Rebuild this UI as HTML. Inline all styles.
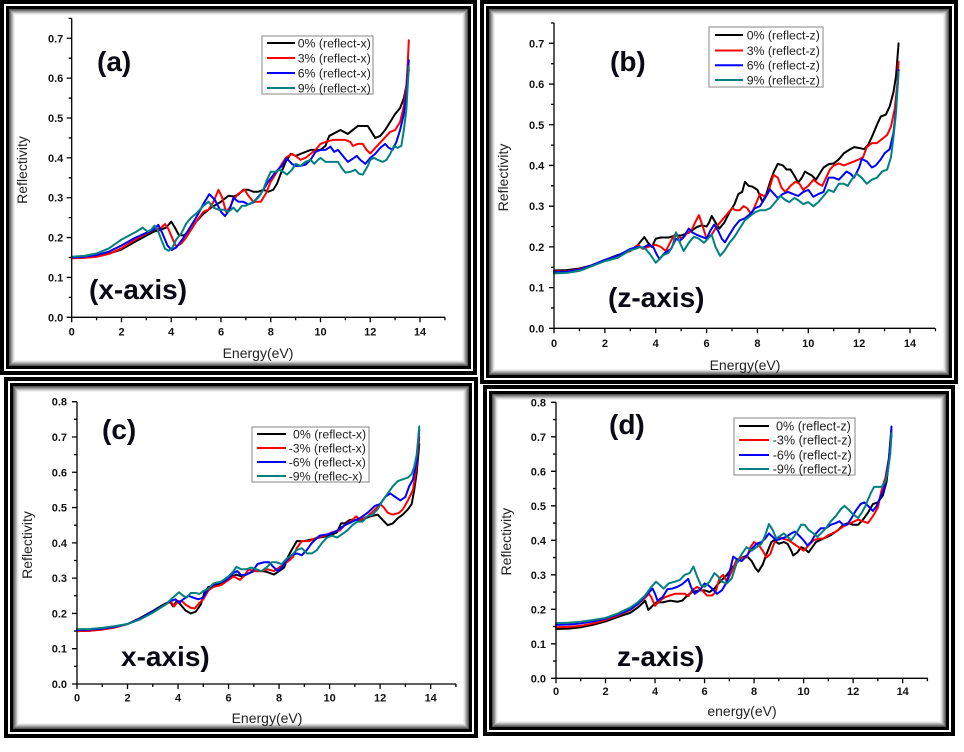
<!DOCTYPE html>
<html><head><meta charset="utf-8"><style>
html,body{margin:0;padding:0;background:#fff;}
svg{display:block;}
text{font-family:"Liberation Sans",Arial,sans-serif;}
.tl{font-size:11px;font-weight:bold;fill:#111;}
.at{font-size:14px;fill:#222;}
.lg{font-size:12.3px;fill:#222;}
.big{font-size:28px;font-weight:bold;fill:#0a0a14;}
.c{fill:none;stroke-width:2;vector-effect:non-scaling-stroke;stroke-linejoin:round;stroke-linecap:round;}
.tk{fill:none;stroke:#000;stroke-width:1.3;vector-effect:non-scaling-stroke;}
</style></head><body>
<svg width="964" height="752" viewBox="0 0 964 752" xmlns="http://www.w3.org/2000/svg">
<rect width="964" height="752" fill="#fff"/>
<!-- frames -->
<g>
<rect x="0" y="0" width="477" height="375" fill="#000"/><rect x="4" y="4" width="469" height="367" fill="#fff"/><rect x="6" y="6" width="465" height="363" fill="#000"/><rect x="9" y="9" width="459" height="357" fill="#555"/><rect x="10" y="10" width="457" height="355" fill="#777"/><rect x="11" y="11" width="455" height="353" fill="#999"/><rect x="12" y="12" width="453" height="351" fill="#bbb"/><rect x="13" y="13" width="451" height="349" fill="#ddd"/><rect x="14" y="14" width="449" height="347" fill="#f0f0f0"/><rect x="15" y="15" width="447" height="345" fill="#fff"/>
</g>
<g>
<rect x="480" y="0" width="478" height="384" fill="#000"/><rect x="484" y="4" width="470" height="376" fill="#fff"/><rect x="486" y="6" width="466" height="372" fill="#000"/><rect x="489" y="9" width="460" height="366" fill="#555"/><rect x="490" y="10" width="458" height="364" fill="#777"/><rect x="491" y="11" width="456" height="362" fill="#999"/><rect x="492" y="12" width="454" height="360" fill="#bbb"/><rect x="493" y="13" width="452" height="358" fill="#ddd"/><rect x="494" y="14" width="450" height="356" fill="#f0f0f0"/><rect x="495" y="15" width="448" height="354" fill="#fff"/>
</g>
<g>
<rect x="4" y="377" width="474" height="361" fill="#000"/><rect x="8" y="381" width="466" height="353" fill="#fff"/><rect x="10" y="383" width="462" height="349" fill="#000"/><rect x="13" y="386" width="456" height="343" fill="#555"/><rect x="14" y="387" width="454" height="341" fill="#777"/><rect x="15" y="388" width="452" height="339" fill="#999"/><rect x="16" y="389" width="450" height="337" fill="#bbb"/><rect x="17" y="390" width="448" height="335" fill="#ddd"/><rect x="18" y="391" width="446" height="333" fill="#f0f0f0"/><rect x="19" y="392" width="444" height="331" fill="#fff"/>
</g>
<g>
<rect x="483" y="385" width="472" height="351" fill="#000"/><rect x="487" y="389" width="464" height="343" fill="#fff"/><rect x="489" y="391" width="460" height="339" fill="#000"/><rect x="492" y="394" width="454" height="333" fill="#555"/><rect x="493" y="395" width="452" height="331" fill="#777"/><rect x="494" y="396" width="450" height="329" fill="#999"/><rect x="495" y="397" width="448" height="327" fill="#bbb"/><rect x="496" y="398" width="446" height="325" fill="#ddd"/><rect x="497" y="399" width="444" height="323" fill="#f0f0f0"/><rect x="498" y="400" width="442" height="321" fill="#fff"/>
</g>

<!-- ================= PANEL A ================= -->
<g transform="translate(71.7,317.3) scale(24.88,-3.986)">
<polyline class="c" stroke="#000" points="0,15 0.5,15.1 1,15.4 1.5,16 2,17 2.5,18.8 3,20.5 3.3,21.5 3.6,22 3.8,22.5 4.0,24 4.15,22.5 4.3,20.7 4.5,20.5 4.8,22 5.0,24 5.3,26 5.6,27.5 6.0,29 6.3,30.5 6.5,30.3 6.7,30.8 6.9,32 7.1,32 7.3,31.5 7.5,31.5 7.7,32 7.9,31.5 8.1,32 8.25,33.5 8.4,36 8.6,39 8.8,41 9.0,40.5 9.2,41 9.4,41.5 9.6,42 9.8,42 10.0,42 10.2,43 10.35,45.5 10.5,46 10.8,47 11.1,46 11.3,47 11.5,48 11.7,48 11.9,48 12.05,46.5 12.2,45 12.4,45.5 12.6,47 12.8,49 13.0,51 13.2,52.5 13.35,55 13.45,58 13.55,62"/>
<polyline class="c" stroke="#f00" points="0,14.8 0.5,14.9 1,15.2 1.5,15.9 2,17.3 2.5,19.3 3,21 3.3,22 3.6,22.5 3.75,23.4 3.9,22 4.1,19 4.2,17.8 4.4,18.5 4.6,20 4.8,22 5.0,24 5.3,26.5 5.5,27 5.7,29 5.9,32 6.05,30 6.2,26.5 6.35,27.5 6.5,29.5 6.7,31 6.95,32 7.1,30.5 7.3,29 7.6,29 7.8,31 8.0,34 8.3,37 8.6,40 8.85,41 9.0,40.5 9.2,39.5 9.4,40 9.6,41 9.8,42 10.0,43.5 10.2,44 10.5,44.5 10.8,44.5 11.0,44.5 11.2,44 11.3,43 11.5,43.5 11.7,43.5 11.85,42 12.0,41.1 12.2,42.5 12.5,44.5 12.8,46.5 13.0,47 13.2,49 13.35,53 13.45,58 13.5,63 13.55,69.5"/>
<polyline class="c" stroke="#00f" points="0,15 0.5,15.2 1,15.6 1.5,16.5 2,18 2.5,19.8 3,21.2 3.3,22 3.48,23.2 3.65,21 3.85,18 4.02,16.9 4.2,17.5 4.5,20 4.8,23 5.0,25 5.3,28.5 5.53,30.9 5.75,29.5 6.0,26.5 6.16,25.4 6.35,27 6.5,30 6.7,29 6.9,29 7.1,28.3 7.3,28.8 7.6,31 7.9,34 8.2,36.5 8.45,38 8.64,39.9 8.85,38.5 9.0,38 9.2,38 9.4,38.3 9.6,39.5 9.8,41.5 10.0,42 10.2,42 10.4,42.8 10.55,41.5 10.7,42 10.9,40.5 11.1,39 11.3,39.8 11.45,40.5 11.6,39.5 11.8,38.5 12.0,40 12.2,41 12.4,42.5 12.6,43.5 12.75,42.5 12.9,42 13.05,44 13.2,47 13.35,51 13.45,56 13.55,64.5"/>
<polyline class="c" stroke="#008080" points="0,15.2 0.5,15.4 1,16 1.5,17.3 2,19.5 2.3,20.5 2.6,21.5 2.85,22.5 3.05,21.5 3.2,22 3.33,23 3.45,22 3.6,19.5 3.75,17.2 3.9,16.7 4.05,17.5 4.2,19.5 4.4,21 4.6,23.5 4.8,25 5.0,26 5.3,28 5.5,29 5.7,27.5 5.9,27 6.1,27 6.3,26.5 6.5,27.5 6.65,26.5 6.85,28 7.0,28 7.3,29 7.5,30 7.7,32 7.85,34.5 8.0,36.5 8.2,36.5 8.35,37 8.5,36.5 8.65,35.8 8.85,37 9.0,38.5 9.2,38 9.4,39 9.6,39.5 9.75,38.5 9.9,39.5 10.0,40 10.2,39 10.5,39 10.7,39 10.85,37.5 11.0,36.3 11.2,36.5 11.4,37 11.55,36 11.7,35.8 11.9,38 12.0,39.5 12.15,40 12.3,39.5 12.5,39 12.65,39.5 12.8,41 12.95,43 13.1,42.5 13.25,43 13.35,47 13.45,52 13.55,63"/>
</g>
<path class="tk" d="M71.7,317.3V18.3M71.7,317.3H445" />
<g transform="translate(71.7,317.3) scale(24.88,1)"><path class="tk" d="M0,0v5M1,0v3M2,0v5M3,0v3M4,0v5M5,0v3M6,0v5M7,0v3M8,0v5M9,0v3M10,0v5M11,0v3M12,0v5M13,0v3M14,0v5M15,0v3"/></g>
<g transform="translate(71.7,317.3) scale(1,-3.986)"><path class="tk" d="M0,0h-5M0,5h-3M0,10h-5M0,15h-3M0,20h-5M0,25h-3M0,30h-5M0,35h-3M0,40h-5M0,45h-3M0,50h-5M0,55h-3M0,60h-5M0,65h-3M0,70h-5M0,75h-3"/></g>
<g class="tl" text-anchor="end">
<text x="63.3" y="321.3">0.0</text><text x="63.3" y="281.4">0.1</text><text x="63.3" y="241.6">0.2</text><text x="63.3" y="201.7">0.3</text><text x="63.3" y="161.9">0.4</text><text x="63.3" y="122">0.5</text><text x="63.3" y="82.1">0.6</text><text x="63.3" y="42.3">0.7</text>
</g>
<g class="tl" text-anchor="middle">
<text x="71.7" y="335.5">0</text><text x="121.5" y="335.5">2</text><text x="171.2" y="335.5">4</text><text x="221" y="335.5">6</text><text x="270.8" y="335.5">8</text><text x="320.5" y="335.5">10</text><text x="370.3" y="335.5">12</text><text x="420" y="335.5">14</text>
</g>
<text class="at" x="258" y="358" text-anchor="middle">Energy(eV)</text>
<text class="at" transform="translate(27,170) rotate(-90)" text-anchor="middle">Reflectivity</text>
<rect x="262" y="36" width="111" height="58" fill="#fff" stroke="#999" stroke-width="1.2"/>
<line x1="267" y1="43" x2="295" y2="43" stroke="#000" stroke-width="2"/>
<line x1="267" y1="58" x2="295" y2="58" stroke="#f00" stroke-width="2"/>
<line x1="267" y1="73" x2="295" y2="73" stroke="#00f" stroke-width="2"/>
<line x1="267" y1="88" x2="295" y2="88" stroke="#008080" stroke-width="2"/>
<g class="lg"><text x="297.7" y="47.3">0% (reflect-x)</text><text x="297.7" y="62.3">3% (reflect-x)</text><text x="297.7" y="77.3">6% (reflect-x)</text><text x="297.7" y="92.3">9% (reflect-x)</text></g>
<text class="big" x="97" y="71">(a)</text>
<text class="big" x="89" y="299">(x-axis)</text>

<!-- ================= PANEL B ================= -->
<g transform="translate(554,328.3) scale(25.43,-4.071)">
<polyline class="c" stroke="#000" points="0,14.2 0.5,14.3 1,14.7 1.5,15.5 2,16.8 2.5,18 3,19 3.3,20.5 3.55,22.4 3.7,21 3.85,20 4.0,22 4.2,22.3 4.5,22.3 4.8,22.8 5.0,22.8 5.3,23.5 5.6,24.8 5.8,25.3 6.0,25 6.1,26 6.2,27.6 6.35,26 6.5,24.5 6.7,26 6.9,28.5 7.1,30.5 7.25,33 7.4,33.5 7.51,36 7.65,35 7.8,34.8 8.0,34 8.1,32.5 8.2,31 8.35,33 8.5,36 8.65,38.5 8.8,40.4 9.0,40 9.15,39 9.3,39 9.45,37.5 9.6,35.8 9.75,37 9.87,38.5 10.0,38 10.15,37.5 10.3,36.5 10.45,38 10.6,39.5 10.8,40.3 11.0,40.5 11.2,41.5 11.4,43 11.6,43.8 11.8,44.5 12.0,44.3 12.2,44 12.35,45 12.5,47 12.7,50 12.85,52 13.05,52.5 13.2,54.5 13.35,58 13.45,62 13.55,70"/>
<polyline class="c" stroke="#f00" points="0,13.9 0.5,14 1,14.5 1.5,15.5 2,16.8 2.5,17.8 3,19 3.3,20.5 3.5,19.5 3.7,20 4.0,20.5 4.2,20 4.4,19 4.6,21.5 4.75,23 4.9,22.5 5.05,22 5.25,23.5 5.4,24 5.55,26 5.7,27.8 5.85,25 6.0,22 6.2,23 6.4,25 6.6,26.5 6.8,28 7.0,29.5 7.15,29 7.3,29 7.45,30 7.6,29.5 7.75,28 7.9,30 8.1,33 8.25,32.5 8.4,33 8.5,35 8.63,37.7 8.8,37 8.95,34.5 9.1,33.5 9.3,35 9.5,36 9.65,35.5 9.8,34 10.0,35 10.2,36.5 10.4,35.5 10.55,35 10.7,37 10.85,39 11.0,40 11.2,40.5 11.4,40 11.6,40.5 11.8,41 12.0,41.5 12.15,42 12.3,44.5 12.5,45.5 12.7,45.5 12.9,46.5 13.1,47.5 13.25,49.5 13.4,54 13.5,60 13.55,65.5"/>
<polyline class="c" stroke="#00f" points="0,13.8 0.5,13.9 1,14.4 1.5,15.5 2,16.8 2.5,17.8 3,19.5 3.3,20 3.5,19.8 3.7,20.5 3.9,20 4.05,18 4.15,17 4.35,18.5 4.6,19.5 4.8,22 4.95,21.5 5.1,22.5 5.3,24.5 5.45,23.5 5.6,23 5.8,22.5 6.0,22 6.15,24 6.3,25.5 6.45,24 6.6,22 6.72,21.1 6.9,23 7.1,25 7.3,26.5 7.5,27 7.7,28 7.9,29.5 8.1,30 8.3,32 8.49,34.1 8.65,33 8.8,32 9.0,33 9.2,33.5 9.4,33 9.6,32.5 9.8,33.5 10.0,34 10.2,32.3 10.4,33 10.6,33.5 10.8,37 11.0,37 11.2,36.5 11.35,37.5 11.5,38.5 11.65,38 11.8,37 12.0,39.5 12.1,41.6 12.3,41 12.5,39.5 12.65,40 12.85,41.5 13.0,43 13.2,44 13.35,48 13.45,54 13.55,63.5"/>
<polyline class="c" stroke="#008080" points="0,13.5 0.5,13.6 1,14.1 1.5,15.3 2,16.5 2.5,17.3 3,19.2 3.2,19.5 3.4,20 3.6,19.5 3.8,18 4.0,16.1 4.15,17 4.3,18 4.5,18.5 4.65,20 4.8,23.6 4.95,21 5.1,19 5.3,21 5.5,22.5 5.7,22 5.9,21 6.05,22 6.2,23 6.35,20 6.53,17.8 6.7,19 6.9,21 7.1,22.5 7.3,24.5 7.5,26.5 7.7,27.5 7.9,28.5 8.1,29 8.3,29 8.5,29.5 8.7,31 8.9,32.5 9.1,31.5 9.25,31 9.45,32 9.6,31.5 9.8,30.5 10.0,31 10.2,30 10.4,31 10.6,32.5 10.8,34 11.0,33.5 11.2,35.5 11.4,35.5 11.55,35 11.7,36.5 11.9,38 12.1,37 12.3,35.5 12.5,36.5 12.7,37 12.9,38.5 13.1,39 13.25,42 13.35,47 13.45,53 13.55,63"/>
</g>
<path class="tk" d="M554,328.3V22.7M554,328.3H935" />
<g transform="translate(554,328.3) scale(25.43,1)"><path class="tk" d="M0,0v5M1,0v3M2,0v5M3,0v3M4,0v5M5,0v3M6,0v5M7,0v3M8,0v5M9,0v3M10,0v5M11,0v3M12,0v5M13,0v3M14,0v5M15,0v3"/></g>
<g transform="translate(554,328.3) scale(1,-4.071)"><path class="tk" d="M0,0h-5M0,5h-3M0,10h-5M0,15h-3M0,20h-5M0,25h-3M0,30h-5M0,35h-3M0,40h-5M0,45h-3M0,50h-5M0,55h-3M0,60h-5M0,65h-3M0,70h-5M0,75h-3"/></g>
<g class="tl" text-anchor="end">
<text x="544.3" y="332.3">0.0</text><text x="544.3" y="291.6">0.1</text><text x="544.3" y="250.9">0.2</text><text x="544.3" y="210.2">0.3</text><text x="544.3" y="169.5">0.4</text><text x="544.3" y="128.8">0.5</text><text x="544.3" y="88.1">0.6</text><text x="544.3" y="47.3">0.7</text>
</g>
<g class="tl" text-anchor="middle">
<text x="554" y="347">0</text><text x="604.9" y="347">2</text><text x="655.7" y="347">4</text><text x="706.6" y="347">6</text><text x="757.4" y="347">8</text><text x="808.3" y="347">10</text><text x="859.1" y="347">12</text><text x="910" y="347">14</text>
</g>
<text class="at" x="745" y="370" text-anchor="middle">Energy(eV)</text>
<text class="at" transform="translate(508,177.5) rotate(-90)" text-anchor="middle">Reflectivity</text>
<rect x="709" y="27" width="114" height="60" fill="#fff" stroke="#999" stroke-width="1.2"/>
<line x1="715" y1="35" x2="743" y2="35" stroke="#000" stroke-width="2"/>
<line x1="715" y1="50.5" x2="743" y2="50.5" stroke="#f00" stroke-width="2"/>
<line x1="715" y1="65.3" x2="743" y2="65.3" stroke="#00f" stroke-width="2"/>
<line x1="715" y1="80" x2="743" y2="80" stroke="#008080" stroke-width="2"/>
<g class="lg"><text x="746.7" y="39.3">0% (reflect-z)</text><text x="746.7" y="54.8">3% (reflect-z)</text><text x="746.7" y="69.6">6% (reflect-z)</text><text x="746.7" y="84.3">9% (reflect-z)</text></g>
<text class="big" x="610" y="71">(b)</text>
<text class="big" x="608" y="307">(z-axis)</text>

<!-- ================= PANEL C ================= -->
<g transform="translate(77,684) scale(25.26,-3.529)">
<polyline class="c" stroke="#000" points="0,15 0.5,15.1 1,15.5 1.5,16.2 2,17 2.5,18.7 3,20.7 3.3,22 3.55,23 3.7,23.2 3.8,22 3.95,23.5 4.1,22.5 4.3,20.8 4.5,20 4.7,20.5 4.9,22.5 5.05,26 5.2,27.5 5.5,28 5.8,29 6.0,30 6.3,31 6.5,30.5 6.7,31 7.0,32 7.3,32 7.5,31.8 7.8,31 8.0,32 8.2,33 8.35,36 8.5,38 8.7,40.5 9.0,40.5 9.3,41 9.6,41.5 10.0,42 10.3,43 10.45,45.5 10.6,45.5 10.8,46.5 11.0,46.5 11.3,46.5 11.6,47.5 11.9,48 12.1,46.5 12.3,45 12.5,45.5 12.7,47 12.9,48 13.1,49.5 13.25,51 13.35,55 13.45,60 13.55,68"/>
<polyline class="c" stroke="#f00" points="0,15 0.5,15.1 1,15.4 1.5,16 2,17 2.5,18.5 3,20.5 3.5,22.5 3.7,23.5 3.85,22 4.0,23.5 4.15,23.5 4.3,22.5 4.5,21.6 4.66,21.4 4.85,23 5.0,24 5.2,26.5 5.4,27.5 5.7,28 6.0,29.5 6.2,30.5 6.45,29.5 6.6,30.5 6.8,32.5 7.0,32 7.3,32 7.55,32.5 7.8,32 8.0,33 8.2,34 8.4,35 8.55,36 8.7,38.5 8.9,40.5 9.2,40.5 9.5,41.5 9.8,42 10.1,43 10.4,43.5 10.6,45 10.9,46.5 11.05,47.5 11.2,46.5 11.5,47.5 11.8,49.5 12.0,51 12.15,50 12.3,48.5 12.5,48 12.75,48.5 12.9,49.5 13.1,52 13.3,55 13.45,62 13.55,70"/>
<polyline class="c" stroke="#00f" points="0,15.3 0.5,15.4 1,15.7 1.5,16.2 2,17 2.5,18.5 3,20.5 3.5,22.5 3.7,23.5 3.9,24 4.05,23 4.2,24 4.4,25 4.6,24.5 4.8,24 5.0,24.5 5.2,27 5.5,28.5 5.8,29 6.0,30 6.2,31.5 6.35,32 6.5,30.8 6.7,31 6.95,32 7.15,34 7.4,34.5 7.6,34.5 7.8,33 7.95,32 8.1,33 8.3,35 8.5,36.5 8.7,37 8.9,36.5 9.1,38 9.3,40 9.6,42 10.0,42.5 10.3,43.5 10.6,45 10.9,46 11.2,47 11.5,48.5 11.8,50.5 12.0,51 12.2,53 12.4,54 12.6,53 12.8,52 13.0,53 13.15,56 13.3,58 13.45,63 13.55,72"/>
<polyline class="c" stroke="#008080" points="0,15.5 0.5,15.6 1,15.9 1.5,16.4 2,17 2.5,18.3 3,20.2 3.5,22.5 3.8,24.5 4.04,26 4.2,25 4.35,24.5 4.5,25.8 4.7,25.8 4.85,25.5 5.0,26.3 5.2,27 5.4,28.5 5.7,29 6.0,30.5 6.2,32 6.31,33.2 6.5,32.5 6.7,32.5 6.9,33 7.1,32.5 7.3,32 7.5,33 7.7,34.5 7.9,34.5 8.1,34 8.3,35.5 8.5,36.5 8.7,38 8.9,38.5 9.1,37 9.3,37 9.5,38 9.7,40 9.9,41.5 10.1,42 10.3,41.5 10.5,42.5 10.7,43.5 10.9,45 11.1,46 11.3,46 11.5,47.5 11.7,48 11.9,49.5 12.1,52 12.3,54 12.5,56 12.7,57.5 12.9,58 13.1,58.5 13.25,59.5 13.35,61.5 13.45,65 13.55,73"/>
</g>
<path class="tk" d="M77,684V401.7M77,684H456" />
<g transform="translate(77,684) scale(25.26,1)"><path class="tk" d="M0,0v5M1,0v3M2,0v5M3,0v3M4,0v5M5,0v3M6,0v5M7,0v3M8,0v5M9,0v3M10,0v5M11,0v3M12,0v5M13,0v3M14,0v5M15,0v3"/></g>
<g transform="translate(77,684) scale(1,-3.529)"><path class="tk" d="M0,0h-5M0,5h-3M0,10h-5M0,15h-3M0,20h-5M0,25h-3M0,30h-5M0,35h-3M0,40h-5M0,45h-3M0,50h-5M0,55h-3M0,60h-5M0,65h-3M0,70h-5M0,75h-3M0,80h-5"/></g>
<g class="tl" text-anchor="end">
<text x="67" y="688">0.0</text><text x="67" y="652.7">0.1</text><text x="67" y="617.4">0.2</text><text x="67" y="582.1">0.3</text><text x="67" y="546.8">0.4</text><text x="67" y="511.6">0.5</text><text x="67" y="476.3">0.6</text><text x="67" y="441">0.7</text><text x="67" y="405.7">0.8</text>
</g>
<g class="tl" text-anchor="middle">
<text x="77" y="701.5">0</text><text x="127.5" y="701.5">2</text><text x="178" y="701.5">4</text><text x="228.6" y="701.5">6</text><text x="279.1" y="701.5">8</text><text x="329.6" y="701.5">10</text><text x="380.1" y="701.5">12</text><text x="430.7" y="701.5">14</text>
</g>
<text class="at" x="267" y="723" text-anchor="middle">Energy(eV)</text>
<text class="at" transform="translate(32,545) rotate(-90)" text-anchor="middle">Reflectivity</text>
<rect x="252" y="427" width="117" height="55" fill="#fff" stroke="#999" stroke-width="1.2"/>
<line x1="257" y1="434" x2="286" y2="434" stroke="#000" stroke-width="2"/>
<line x1="257" y1="448" x2="286" y2="448" stroke="#f00" stroke-width="2"/>
<line x1="257" y1="462" x2="286" y2="462" stroke="#00f" stroke-width="2"/>
<line x1="257" y1="476" x2="286" y2="476" stroke="#008080" stroke-width="2"/>
<g class="lg"><text x="293" y="438.3">0% (reflect-x)</text><text x="288.7" y="452.3">-3% (reflect-x)</text><text x="288.7" y="466.3">-6% (reflect-x)</text><text x="288.7" y="480.3">-9% (reflec-x)</text></g>
<text class="big" x="102" y="439">(c)</text>
<text class="big" x="121" y="666">x-axis)</text>

<!-- ================= PANEL D ================= -->
<g transform="translate(556,678.3) scale(24.76,-3.45)">
<polyline class="c" stroke="#000" points="0,14.3 0.5,14.4 1,14.8 1.5,15.5 2,16.5 2.5,17.8 3,19 3.3,20.5 3.5,21.8 3.6,22.5 3.73,19.8 3.9,21 4.05,22 4.3,22 4.6,22.5 4.9,22.2 5.1,22.5 5.3,24 5.5,25 5.8,25.5 6.0,25.5 6.2,25 6.4,26 6.5,27 6.7,28.5 6.9,30 7.1,32 7.3,33.5 7.5,35 7.7,35.5 7.9,34 8.05,32 8.17,30.9 8.35,33 8.5,36 8.7,39.5 8.8,40 9.0,39 9.2,39.5 9.35,39 9.5,37 9.58,35.6 9.75,36.5 9.9,38 10.05,37.5 10.2,36.5 10.35,38 10.5,39.5 10.8,40.5 11.1,41.5 11.4,43 11.6,44.5 11.8,45 12.0,44.5 12.2,44.5 12.4,46 12.6,48 12.8,50.5 13.0,51 13.2,53 13.35,57 13.45,63 13.55,71"/>
<polyline class="c" stroke="#f00" points="0,14.8 0.5,14.9 1,15.2 1.5,15.9 2,16.9 2.5,18.2 3,19.8 3.3,21.5 3.55,23 3.75,24.5 3.85,23.5 4.0,21 4.2,22.5 4.4,23.5 4.6,24 4.8,24.5 5.0,24.5 5.2,24.5 5.35,23.8 5.5,25.5 5.7,26.5 5.9,25.5 6.1,24 6.3,24 6.45,25 6.6,29 6.75,30 6.9,28 7.1,31 7.3,34.5 7.5,35 7.7,35 7.85,38 8.0,39.5 8.2,38.5 8.35,37 8.5,35 8.65,36 8.8,39 9.0,41 9.15,40.5 9.4,40 9.6,39 9.8,38 10.0,37 10.2,38.5 10.4,40 10.6,40.5 10.8,40.5 11.0,41.5 11.3,42.5 11.6,44 11.9,45 12.2,46 12.4,45.5 12.6,45 12.8,47 13.0,49.5 13.1,53 13.2,56 13.3,58 13.45,64 13.55,72"/>
<polyline class="c" stroke="#00f" points="0,15.5 0.5,15.6 1,15.9 1.5,16.5 2,17.3 2.5,18.5 3,20 3.3,21.5 3.5,23 3.7,24.5 3.9,26 4.0,24.5 4.1,22.5 4.3,23.5 4.5,25.8 4.7,26 4.9,26.5 5.1,27.3 5.34,28.8 5.45,26.5 5.6,24.5 5.8,25.5 6.0,27.5 6.15,27 6.3,26 6.5,24.5 6.7,25.5 6.9,28 7.05,32 7.16,35.3 7.3,34.5 7.5,34 7.7,35.5 7.9,37.5 8.1,39 8.3,39.5 8.45,40.5 8.6,42 8.75,41 8.9,40 9.1,40.5 9.3,41 9.5,42 9.65,42.5 9.8,41.5 10.0,40 10.15,38.5 10.3,39.5 10.5,42 10.7,43.5 10.9,43.5 11.1,44.5 11.3,45 11.45,45.5 11.6,44.5 11.75,44.5 11.9,46 12.1,48.5 12.3,50.5 12.45,51 12.6,50 12.8,48.5 12.95,50 13.1,52.5 13.25,55 13.35,59 13.45,64 13.55,73"/>
<polyline class="c" stroke="#008080" points="0,16 0.5,16.1 1,16.4 1.5,16.9 2,17.5 2.5,18.8 3,20.5 3.3,22 3.6,24 3.85,26.5 4.04,28 4.2,27 4.35,26 4.55,27.5 4.8,28 5.0,28.5 5.2,30 5.4,30.5 5.55,32.4 5.7,29.5 5.85,27 6.0,26.5 6.2,28 6.4,30.5 6.55,29.5 6.7,28 6.9,27.5 7.1,29 7.3,33.5 7.5,36 7.7,38 7.9,37 8.1,38 8.3,39 8.45,41.5 8.6,44.7 8.75,43 8.9,40.5 9.1,41.5 9.2,42 9.35,41 9.5,40 9.7,42 9.9,44.5 10.05,44.5 10.2,43 10.4,42 10.55,41 10.7,42 10.9,43.5 11.1,45.5 11.3,47 11.5,49 11.65,50 11.8,49 12.0,47.5 12.2,46.5 12.35,48 12.5,50 12.7,53.5 12.85,55.5 13.0,55.5 13.15,55.5 13.3,57 13.4,60 13.5,65 13.55,71"/>
</g>
<path class="tk" d="M556,678.3V402.3M556,678.3H927.7" />
<g transform="translate(556,678.3) scale(24.76,1)"><path class="tk" d="M0,0v5M1,0v3M2,0v5M3,0v3M4,0v5M5,0v3M6,0v5M7,0v3M8,0v5M9,0v3M10,0v5M11,0v3M12,0v5M13,0v3M14,0v5M15,0v3"/></g>
<g transform="translate(556,678.3) scale(1,-3.45)"><path class="tk" d="M0,0h-5M0,5h-3M0,10h-5M0,15h-3M0,20h-5M0,25h-3M0,30h-5M0,35h-3M0,40h-5M0,45h-3M0,50h-5M0,55h-3M0,60h-5M0,65h-3M0,70h-5M0,75h-3M0,80h-5"/></g>
<g class="tl" text-anchor="end">
<text x="546" y="682.3">0.0</text><text x="546" y="647.8">0.1</text><text x="546" y="613.3">0.2</text><text x="546" y="578.8">0.3</text><text x="546" y="544.3">0.4</text><text x="546" y="509.8">0.5</text><text x="546" y="475.3">0.6</text><text x="546" y="440.8">0.7</text><text x="546" y="406.3">0.8</text>
</g>
<g class="tl" text-anchor="middle">
<text x="556" y="695">0</text><text x="605.5" y="695">2</text><text x="655" y="695">4</text><text x="704.6" y="695">6</text><text x="754.1" y="695">8</text><text x="803.6" y="695">10</text><text x="853.1" y="695">12</text><text x="902.7" y="695">14</text>
</g>
<text class="at" x="742" y="716" text-anchor="middle">energy(eV)</text>
<text class="at" transform="translate(511,541.7) rotate(-90)" text-anchor="middle">Reflectivity</text>
<rect x="734" y="418" width="121" height="57" fill="#fff" stroke="#999" stroke-width="1.2"/>
<line x1="739" y1="426" x2="769" y2="426" stroke="#000" stroke-width="2"/>
<line x1="739" y1="440" x2="769" y2="440" stroke="#f00" stroke-width="2"/>
<line x1="739" y1="455" x2="769" y2="455" stroke="#00f" stroke-width="2"/>
<line x1="739" y1="469" x2="769" y2="469" stroke="#008080" stroke-width="2"/>
<g class="lg" style="font-size:12.6px"><text x="776" y="430.3">0% (reflect-z)</text><text x="772.7" y="444.3">-3% (reflect-z)</text><text x="772.7" y="459.3">-6% (reflect-z)</text><text x="772.7" y="473.3">-9% (reflect-z)</text></g>
<text class="big" x="609" y="434">(d)</text>
<text class="big" x="617" y="666">z-axis)</text>
</svg>
</body></html>
